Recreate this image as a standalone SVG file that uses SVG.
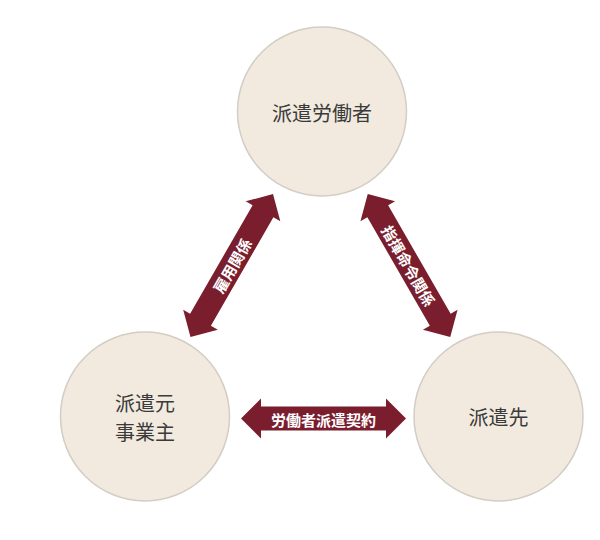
<svg xmlns="http://www.w3.org/2000/svg" width="600" height="540" viewBox="0 0 600 540">
<style>
.node circle{fill:#f2eadf;stroke:#d3cdc6;stroke-width:1.5}
.node text{font-family:"Noto Sans CJK JP","Noto Sans",sans-serif;font-size:20px;fill:#3a3a3a;text-anchor:middle;dominant-baseline:central}
.arrow{fill:#7a1e2e}
.lbl{font-family:"Noto Sans CJK JP","Noto Sans",sans-serif;font-size:15px;font-weight:bold;fill:#ffffff;text-anchor:middle;dominant-baseline:central}
</style>
<defs>
<path id="dbl" d="M-82.5,0 L-62.5,-20 L-62.5,-12 L62.5,-12 L62.5,-20 L82.5,0 L62.5,20 L62.5,12 L-62.5,12 L-62.5,20 Z"/>
</defs>
<rect width="600" height="540" fill="#ffffff"/>
<g id="node-haken-roudousha" class="node">
<circle cx="322" cy="111.5" r="84.5"/>
<text x="322" y="112">派遣労働者</text>
</g>
<g id="node-haken-moto" class="node">
<circle cx="145" cy="416.5" r="84.5"/>
<text x="145" y="402">派遣元</text>
<text x="145" y="431">事業主</text>
</g>
<g id="node-haken-saki" class="node">
<circle cx="498.5" cy="416.5" r="84.5"/>
<text x="498.5" y="416.5">派遣先</text>
</g>
<g id="connectors">
<g transform="translate(231.75,265.5) rotate(-60)">
<use href="#dbl" class="arrow"/>
<text class="lbl" x="0" y="0">雇用関係</text>
</g>
<g transform="translate(409,265.5) rotate(60)">
<use href="#dbl" class="arrow"/>
<text class="lbl" x="0" y="0">指揮命令関係</text>
</g>
<g transform="translate(323.5,418.5)">
<use href="#dbl" class="arrow"/>
<text class="lbl" x="0" y="0.5">労働者派遣契約</text>
</g>
</g>
</svg>
